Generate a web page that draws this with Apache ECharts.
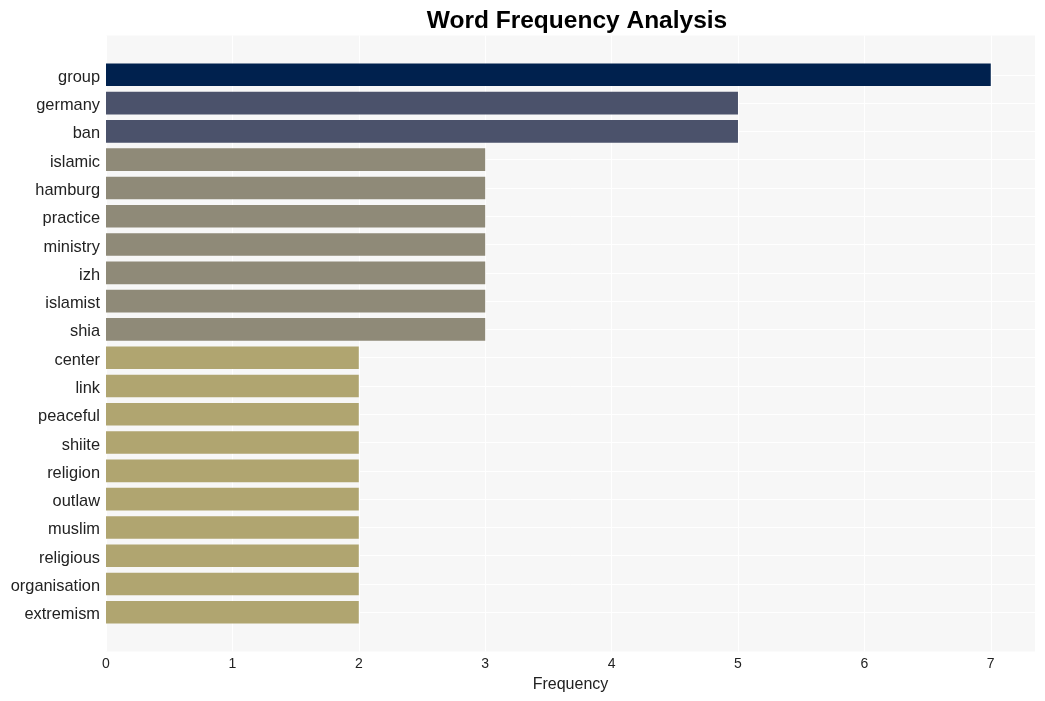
<!DOCTYPE html>
<html><head><meta charset="utf-8">
<script src="https://cdn.jsdelivr.net/npm/echarts@6/dist/echarts.min.js"></script>
<style>html,body{margin:0;padding:0;background:#fff}#c{width:1045px;height:701px}</style>
</head><body><div id="c"></div>
<script>
const words = ['group','germany','ban','islamic','hamburg','practice','ministry','izh','islamist','shia','center','link','peaceful','shiite','religion','outlaw','muslim','religious','organisation','extremism'];
const counts = [7,5,5,3,3,3,3,3,3,3,2,2,2,2,2,2,2,2,2,2];
const xTicks = [0,1,2,3,4,5,6,7];
const colorByCount = {7:'#00214e',5:'#4b526b',3:'#8f8a78',2:'#b0a570'};

const chart = echarts.init(document.getElementById('c'), null, {renderer:'canvas'});
const FONT = 'Liberation Sans, Arial, sans-serif';
chart.setOption({
  animation:false,
  title:{text:'Word Frequency Analysis',left:572,textAlign:'center',top:4,
    textStyle:{fontFamily:FONT,fontWeight:'bold',fontSize:24.5,color:'#000'}},
  grid:[
    {left:106,right:10,top:35.5,height:616,show:true,backgroundColor:'#f7f7f7',borderWidth:0},
    {left:106,right:10,top:74.8,height:537.5,show:false}
  ],
  xAxis:[
    {gridIndex:0,type:'value',min:0,max:7.35,interval:1,
      axisLine:{show:false},axisTick:{show:false},
      axisLabel:{fontFamily:FONT,fontSize:14,color:'#222',margin:6,
        formatter:v=> xTicks.includes(v)?String(v):''},
      splitLine:{show:true,lineStyle:{color:'#ffffff',width:1}},
      name:'Frequency',nameLocation:'middle',nameGap:24,
      nameTextStyle:{fontFamily:FONT,fontSize:16,color:'#222'}},
    {gridIndex:1,type:'value',min:0,max:7.35,show:false}
  ],
  yAxis:[
    {gridIndex:0,type:'value',show:false},
    {gridIndex:1,type:'category',data:words,inverse:true,boundaryGap:false,
      axisLine:{show:false},axisTick:{show:false},
      axisLabel:{margin:6,formatter:v=>'{a|'+v+'}',
        rich:{a:{fontFamily:FONT,fontSize:16.4,color:'#222',padding:[5,0,0,0]}}},
      splitLine:{show:true,lineStyle:{color:'#ffffff',width:1}}}
  ],
  series:[{
    type:'bar',xAxisIndex:1,yAxisIndex:1,barWidth:22.6,clip:false,
    data:counts.map(v=>({value:v,itemStyle:{color:colorByCount[v]}}))
  }]
});
</script></body></html>
